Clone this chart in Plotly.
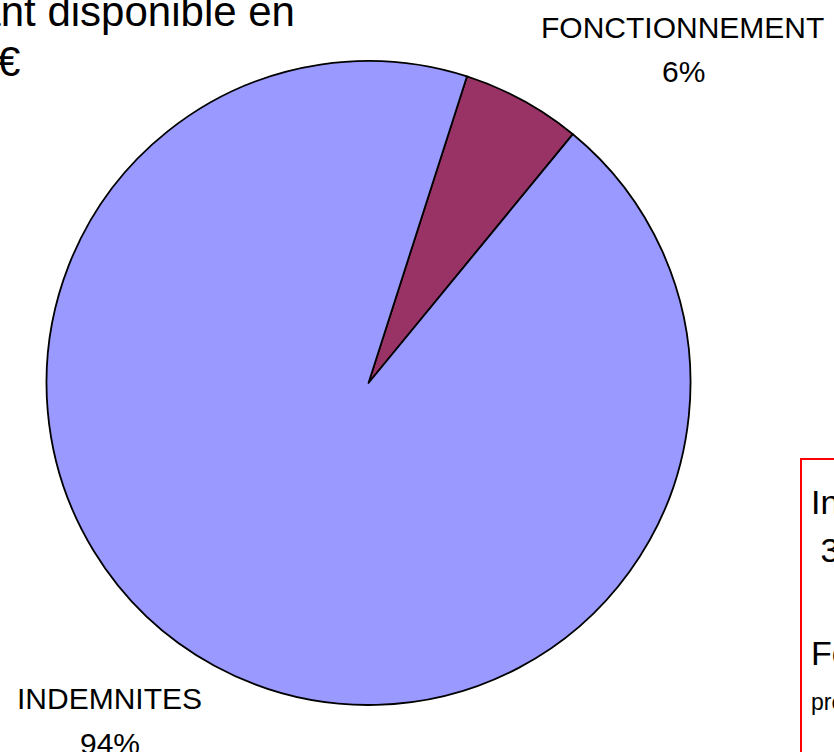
import plotly.graph_objects as go

W, H = 834, 752

# Data
categories = ["FONCTIONNEMENT", "INDEMNITES"]
values = [6, 94]
colors = ["#993366", "#9999FF"]

title_lines = ["Montant disponible en", "2009 : 350 000 €"]
box_lines = ["Indemnités :", " 350 000 €", "Fonctionnement :"]
box_small = "prévisionnel"

total = sum(values)
pct = [f"{round(v / total * 100)}%" for v in values]


def px(x):
    return x / W


def py(y):
    return 1 - y / H


fig = go.Figure()
fig.add_trace(go.Pie(
    labels=categories,
    values=values,
    sort=False,
    direction="clockwise",
    rotation=17.8,
    marker=dict(colors=colors, line=dict(color="#000000", width=1.8)),
    textinfo="none",
    hoverinfo="label+percent",
    showlegend=False,
    domain=dict(x=[px(45), px(692)], y=[py(705), py(61)]),
))

font_family = "Liberation Sans, Arial, sans-serif"
ann = []
# slice labels
label_pos = {
    "FONCTIONNEMENT": ((682, 27), (683, 71)),
    "INDEMNITES": ((109, 698), (110, 743)),
}
for cat, p in zip(categories, pct):
    (x1, y1), (x2, y2) = label_pos[cat]
    ann.append(dict(x=px(x1), y=py(y1), text=cat, showarrow=False,
                    xanchor="center", yanchor="middle",
                    font=dict(size=30, color="#000000", family=font_family)))
    ann.append(dict(x=px(x2), y=py(y2), text=p, showarrow=False,
                    xanchor="center", yanchor="middle",
                    font=dict(size=30, color="#000000", family=font_family)))

# title (partially off the left edge)
ann.append(dict(x=px(297), y=py(12), text=title_lines[0], showarrow=False,
                xanchor="right", yanchor="middle",
                font=dict(size=42, color="#000000", family=font_family)))
ann.append(dict(x=px(22), y=py(62), text=title_lines[1], showarrow=False,
                xanchor="right", yanchor="middle",
                font=dict(size=42, color="#000000", family=font_family)))

# red box text
box_y = [502, 550]
for t, y in zip(box_lines[:2], box_y):
    ann.append(dict(x=px(809), y=py(y), text=t, showarrow=False,
                    xanchor="left", yanchor="middle",
                    font=dict(size=34, color="#000000", family=font_family)))
ann.append(dict(x=px(809), y=py(653), text=box_lines[2], showarrow=False,
                xanchor="left", yanchor="middle",
                font=dict(size=34, color="#000000", family=font_family)))
ann.append(dict(x=px(809), y=py(702), text=box_small, showarrow=False,
                xanchor="left", yanchor="middle",
                font=dict(size=23, color="#000000", family=font_family)))

fig.update_layout(
    width=W, height=H,
    margin=dict(l=0, r=0, t=0, b=0),
    paper_bgcolor="#FFFFFF",
    plot_bgcolor="#FFFFFF",
    annotations=ann,
    shapes=[dict(type="rect", xref="paper", yref="paper",
                 x0=px(801), x1=px(900), y0=py(900), y1=py(459),
                 line=dict(color="#FF0000", width=2), fillcolor="rgba(0,0,0,0)")],
)

fig.write_html("out.html",
               config={"displayModeBar": False},
               post_script="document.body.style.margin='0';document.body.style.overflow='hidden';")
